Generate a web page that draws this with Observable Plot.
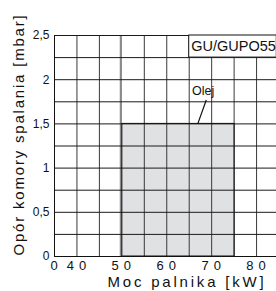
<!DOCTYPE html>
<html>
<head>
<meta charset="utf-8">
<script src="https://cdn.jsdelivr.net/npm/d3@7"></script>
<script src="https://cdn.jsdelivr.net/npm/@observablehq/plot@0.6"></script>
<style>
  html, body { margin: 0; padding: 0; background: #fff; }
  svg { display: block; font-family: "Liberation Sans", Arial, sans-serif; }
</style>
</head>
<body>
<div id="chart"></div>
<script>
// ---- data ----
const xTicks = [0, 40, 50, 60, 70, 80];
const yTicks = [0, 0.5, 1, 1.5, 2, 2.5];
const xGrid = [40, 45, 55, 60, 65, 70, 75, 80];
const xGridGray = [50];
const yGrid = [0.25, 0.5, 0.75, 1, 1.25, 1.5, 1.75, 2, 2.25, 2.5];
const oilX = [50, 75];
const oilY = [0, 1.5];
const oilLabel = "Olej";
const oilLabelPos = [68.1, 1.87];
const oilLeader = [[68.8, 1.77], [66.9, 1.5]];
const modelLabel = "GU/GUPO55";
const modelBoxX = [65, 84.5];
const modelBoxY = [2.25, 2.5];
const xTitle = "Moc palnika [kW]";
const yTitle = "Opór komory spalania [mbar]";

// broken x axis: 0..40 compressed into one grid cell (5 kW wide)
const brk = v => v < 40 ? 35 + v * 5 / 40 : v;
const unbrk = v => v <= 35 ? (v - 35) * 40 / 5 : v;
const fmt = d => String(d).replace(".", ",");

const plot = Plot.plot({
  width: 276,
  height: 291,
  marginLeft: 54,
  marginRight: 0,
  marginTop: 35,
  marginBottom: 35,
  style: {fontFamily: "'Liberation Sans', Arial, sans-serif", background: "#fff"},
  x: {domain: [brk(0), 84.44]},
  y: {domain: [0, 2.5]},
  marks: [
    Plot.rect([{x1: oilX[0], x2: oilX[1], y1: oilY[0], y2: oilY[1]}],
      {x1: d => brk(d.x1), x2: d => brk(d.x2), y1: "y1", y2: "y2", fill: "#e0e1e3"}),
    Plot.ruleX(xGrid, {x: brk, stroke: "#3a3a3a", strokeWidth: 1}),
    Plot.ruleX(xGridGray, {x: brk, stroke: "#8a8a8a", strokeWidth: 2.2, dx: -1}),
    Plot.ruleY(yGrid, {stroke: "#1a1a1a", strokeWidth: 1}),
    Plot.rect([{x1: oilX[0], x2: oilX[1], y1: oilY[0], y2: oilY[1]}],
      {x1: d => brk(d.x1), x2: d => brk(d.x2), y1: "y1", y2: "y2", fill: "none", stroke: "#111", strokeWidth: 1, dx: 0.5}),
    Plot.ruleX([0], {x: brk, stroke: "#111", strokeWidth: 1}),
    Plot.ruleY([0], {stroke: "#111", strokeWidth: 1}),
    Plot.rect([{x1: modelBoxX[0], x2: modelBoxX[1], y1: modelBoxY[0], y2: modelBoxY[1]}],
      {x1: d => brk(d.x1), x2: d => brk(d.x2), y1: "y1", y2: "y2", fill: "#fff", stroke: "#111", strokeWidth: 1}),
    Plot.text([modelLabel], {x: brk(modelBoxX[0]), y: (modelBoxY[0] + modelBoxY[1]) / 2, text: d => d,
      textAnchor: "start", dx: 2, fontSize: 14.5, fill: "#111"}),
    Plot.link([oilLeader], {x1: d => brk(d[0][0]), y1: d => d[0][1], x2: d => brk(d[1][0]), y2: d => d[1][1],
      stroke: "#111", strokeWidth: 1.2}),
    Plot.text([oilLabel], {x: brk(oilLabelPos[0]), y: oilLabelPos[1], text: d => d, fontSize: 12.5, fill: "#111"}),
    Plot.axisX(xTicks.map(brk), {tickSize: 0, tickPadding: 4, fontSize: 13, label: null,
      tickFormat: v => fmt(Math.round(unbrk(v))), fill: "#111", dx: 2}),
    Plot.axisY(yTicks, {tickSize: 0, tickPadding: 5, fontSize: 12, label: null, tickFormat: fmt, fill: "#111"}),
    Plot.text([xTitle], {x: brk(64.5), frameAnchor: "bottom", dy: 30, fontSize: 15, fill: "#111", text: d => d, lineAnchor: "bottom"}),
    Plot.text([yTitle], {y: 1.38, frameAnchor: "left", textAnchor: "middle", dx: -30.5, rotate: -90, fontSize: 15, fill: "#111", text: d => d, lineAnchor: "bottom"})
  ]
});

document.getElementById("chart").appendChild(plot);
const svg = d3.select(plot);
svg.selectAll('g[aria-label="x-axis tick label"] text').style("letter-spacing", "5px");
svg.selectAll('g[aria-label="text"]').filter(function() {
  return d3.select(this).text() === xTitle;
}).selectAll("text").style("letter-spacing", "2.8px");
svg.selectAll('g[aria-label="text"]').filter(function() {
  return d3.select(this).text() === yTitle;
}).selectAll("text").style("letter-spacing", "1.8px");
</script>
</body>
</html>
